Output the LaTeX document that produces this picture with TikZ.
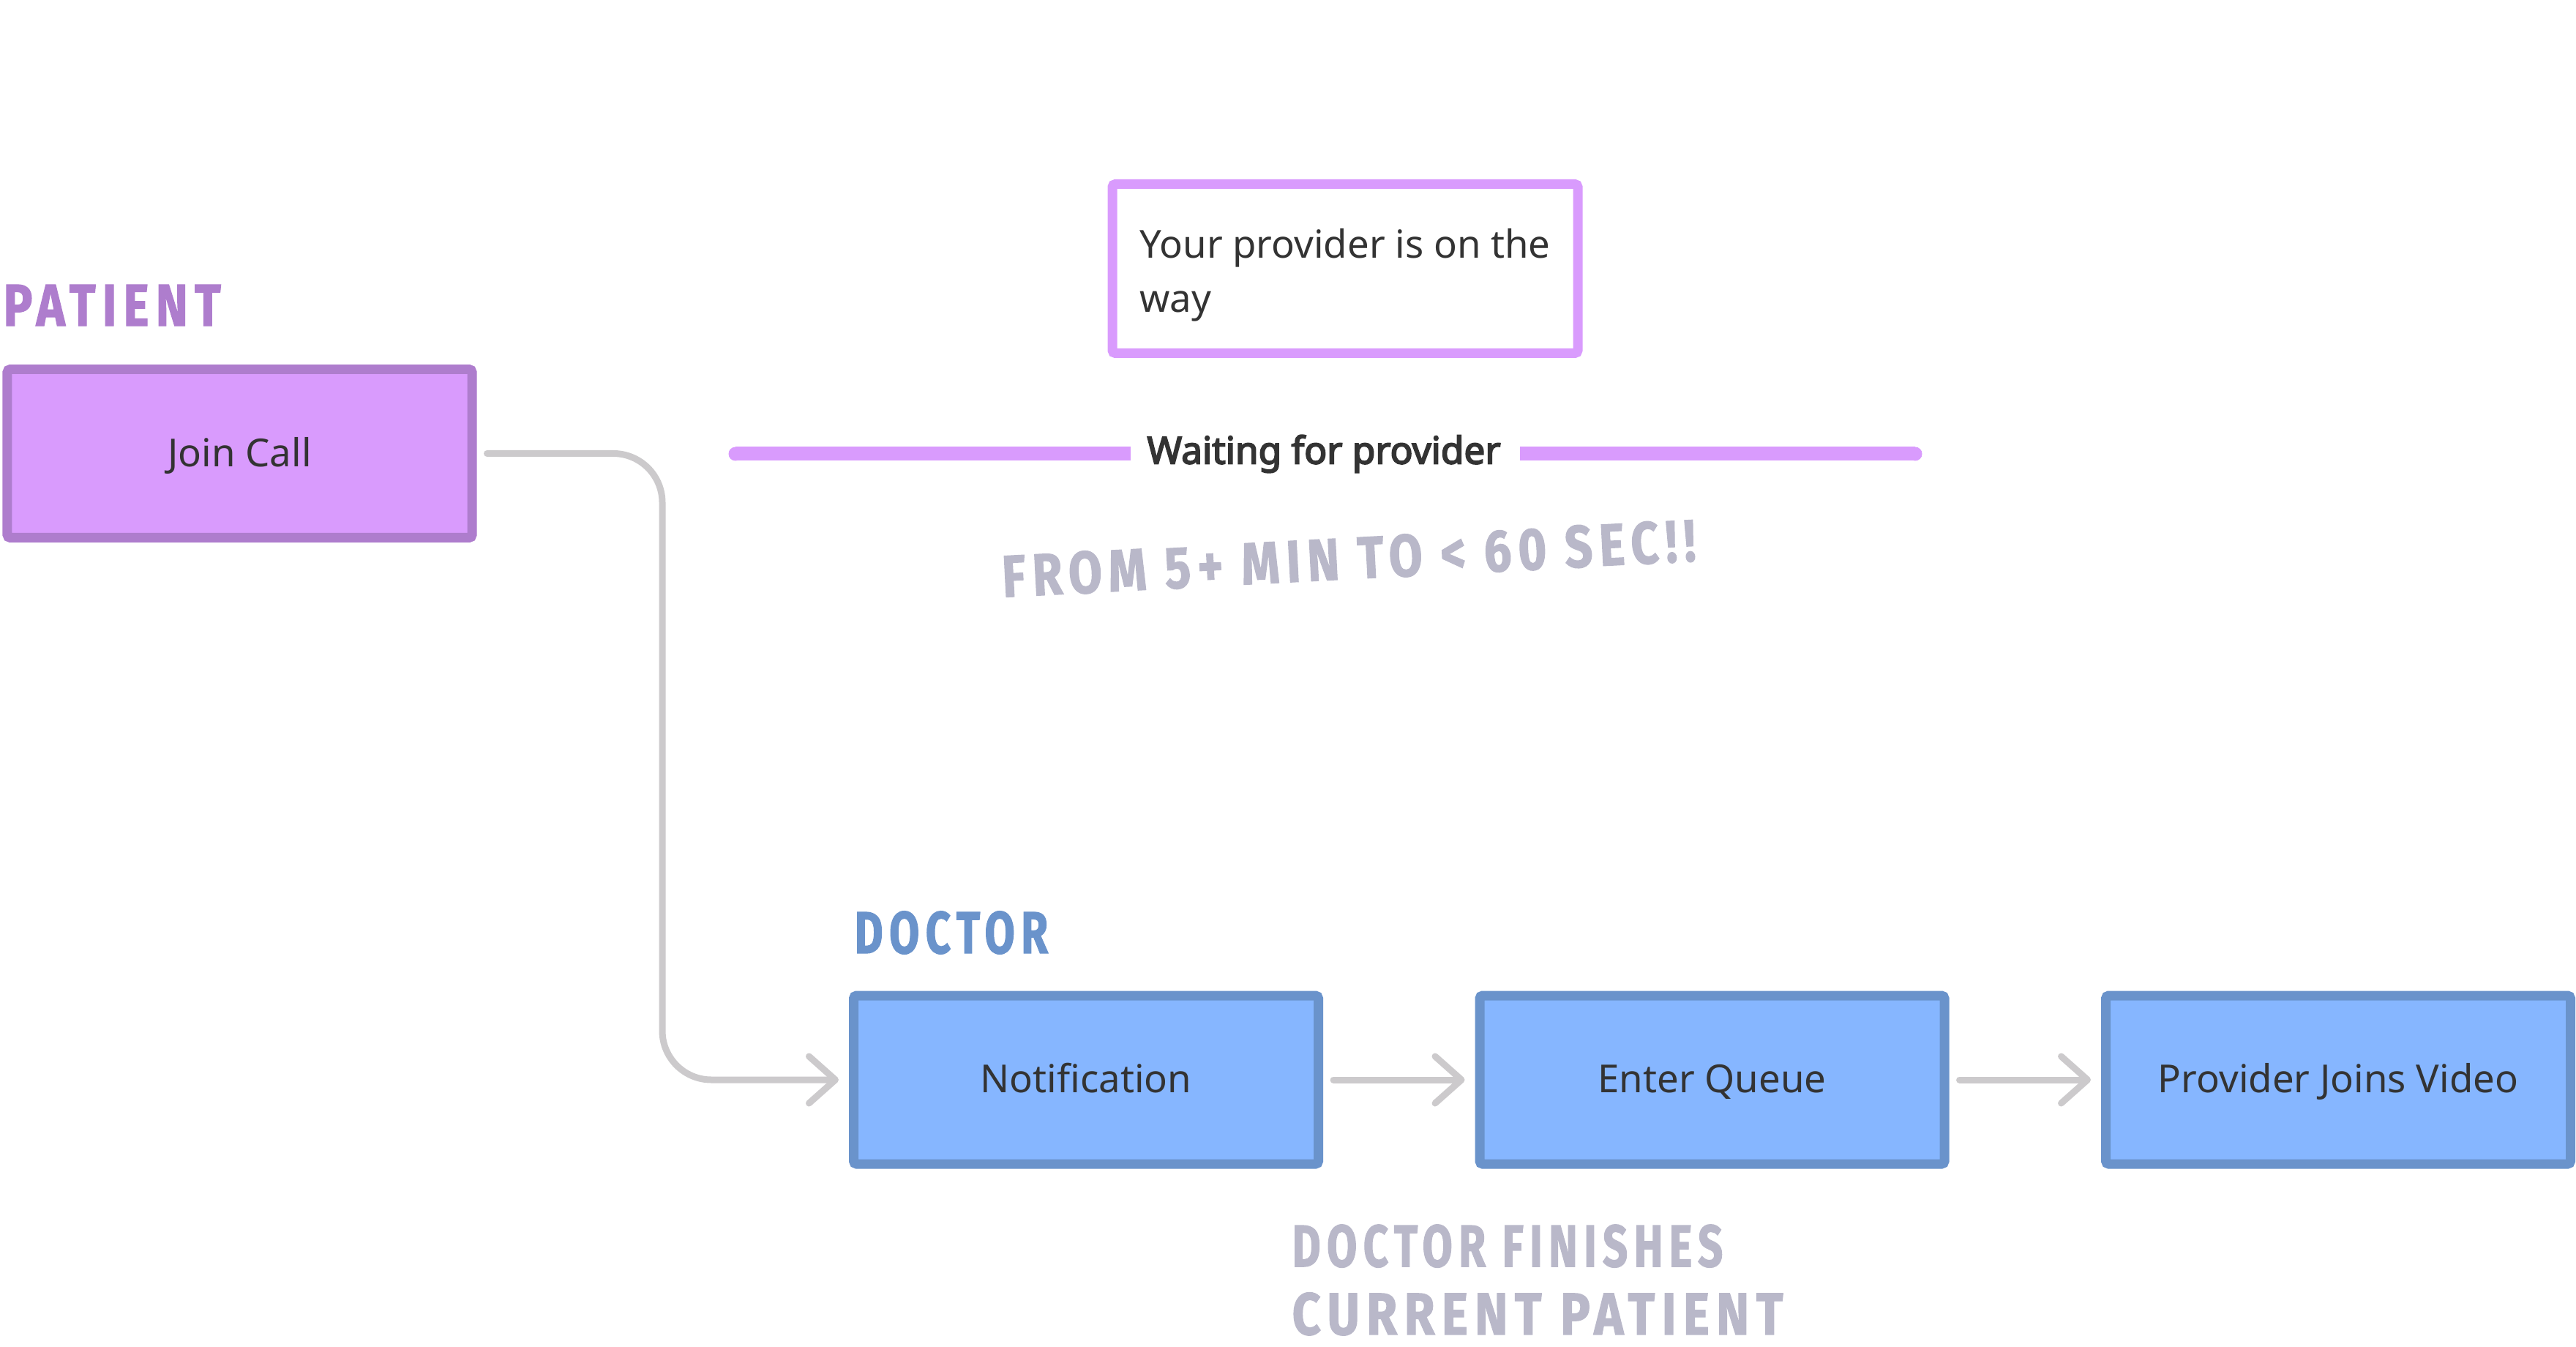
\documentclass[tikz,border=0pt]{standalone}
\usepackage{fontspec}
\setmainfont{Noto Sans}
\newfontfamily\uibold[FakeBold=3.6]{Noto Sans}
\newfontfamily\handfont[LetterSpace=14,FakeBold=1.6]{Fira Sans}
\usetikzlibrary{arrows.meta}
\definecolor{pstroke}{HTML}{AE7DCD}
\definecolor{pfill}{HTML}{D99BFD}
\definecolor{bstroke}{HTML}{6A93CB}
\definecolor{bfill}{HTML}{86B6FF}
\definecolor{conncol}{HTML}{CCCACC}
\definecolor{handgrey}{HTML}{B9B8C9}
\definecolor{txt}{HTML}{333333}
\tikzset{
  uifont/.style={font=\fontsize{15}{21.2}\selectfont, text=txt},
  flowbox/.style={line width=0.13cm, rounded corners=0.04cm, minimum width=6.35cm, minimum height=2.30cm, inner sep=0pt, text height=1.02em, text depth=0pt, uifont},
  pbox/.style={flowbox, draw=pstroke, fill=pfill},
  bbox/.style={flowbox, draw=bstroke, fill=bfill},
  notebox/.style={draw=pfill, fill=white, line width=0.13cm, rounded corners=0.04cm, minimum width=6.36cm, minimum height=2.31cm, inner sep=0pt, align=left, uifont},
  conn/.style={draw=conncol, line width=0.09cm, line cap=round, -{Straight Barb[length=0.36cm,width=0.64cm,line cap=round,line join=round]}},
  waitbar/.style={draw=pfill, line width=0.19cm},
  hand/.style={font=\handfont\bfseries\fontsize{23}{26.4}\selectfont, inner sep=0pt},
}
\begin{document}
\begin{tikzpicture}
\useasboundingbox (0,0) rectangle (35.2,-18.4);
% labels
\node[hand, text=pstroke, anchor=west] (patientlbl) at (0.04,-4.17) {\scalebox{0.82}[1]{PATIENT}};
\node[hand, text=bstroke, anchor=west] (doctorlbl) at (11.67,-12.74) {\scalebox{0.74}[1]{DOCTOR}};
% boxes
\node[pbox] (join) at (3.275,-6.195) {Join Call};
\node[notebox] (note) at (18.38,-3.67) {\rule{0pt}{1.1em}Your provider is on the\\way};
\node[bbox] (notif) at (14.84,-14.75) {Notification};
\node[bbox] (queue) at (23.395,-14.75) {Enter Queue};
\node[bbox] (video) at (31.95,-14.75) {Provider Joins Video};
% waiting bar
\node[text=txt, font=\uibold\fontsize{14.6}{18}\selectfont, inner sep=0pt] (wait) at (18.09,-6.2) {Waiting for provider};
\coordinate (barL) at (10.05,-6.2);
\coordinate (barLi) at (15.45,-6.2);
\coordinate (barRi) at (20.77,-6.2);
\coordinate (barR) at (26.17,-6.2);
\draw[waitbar] (barL) -- (barLi);
\draw[waitbar] (barRi) -- (barR);
\fill[pfill] (barL) circle (0.095);
\fill[pfill] (barR) circle (0.095);
% annotations
\node[hand, text=handgrey, rotate=3] (gain) at (18.43,-7.63) {\scalebox{0.82}[1]{FROM 5+ MIN TO < 60 SEC!!}};
\node[hand, text=handgrey, anchor=north west, align=left] (finish) at (17.65,-16.72) {\scalebox{0.74}[1]{DOCTOR FINISHES}\\\scalebox{0.84}[1]{CURRENT PATIENT}};
% connectors
\coordinate (vbend) at (9.05,-10);
\draw[conn, rounded corners=0.67cm] ([xshift=0.14cm]join.east) -| (vbend) |- ([xshift=-0.14cm]notif.west);
\draw[conn] ([xshift=0.14cm]notif.east) -- ([xshift=-0.14cm]queue.west);
\draw[conn] ([xshift=0.14cm]queue.east) -- ([xshift=-0.14cm]video.west);
\end{tikzpicture}
\end{document}
